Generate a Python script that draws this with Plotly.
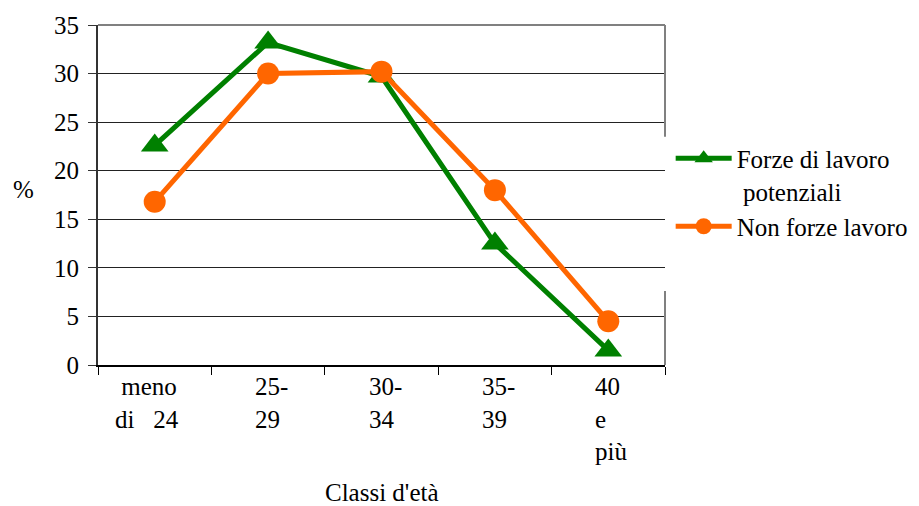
import plotly.graph_objects as go

categories = ["meno di 24", "25-29", "30-34", "35-39", "40 e più"]
tick_labels = ["\u00a0meno<br>di\u00a0\u00a0\u00a024", "25-<br>29", "30-<br>34", "35-<br>39", "40<br>e<br>più"]
tick_shifts = [-42, -15, -15, -15, -15]
forze_potenziali = [22.6, 33.2, 29.7, 12.5, 1.5]
non_forze = [16.8, 30.0, 30.2, 18.0, 4.5]
series_names = ["Forze di lavoro<br>\u00a0potenziali", "Non forze lavoro"]

FONT = "'Liberation Serif', 'Times New Roman', serif"
fig = go.Figure()
fig.add_trace(go.Scatter(
    x=categories, y=forze_potenziali, name=series_names[0], mode="lines+markers",
    line=dict(color="#008000", width=5),
    marker=dict(symbol="triangle-up", size=24, color="#008000")))
fig.add_trace(go.Scatter(
    x=categories, y=non_forze, name=series_names[1], mode="lines+markers",
    line=dict(color="#FF6600", width=5),
    marker=dict(symbol="circle", size=22, color="#FF6600")))

annotations = []
for cat, lab, sh in zip(categories, tick_labels, tick_shifts):
    annotations.append(dict(x=cat, xref="x", y=0, yref="paper", text=lab, showarrow=False,
                            xanchor="left", yanchor="top", align="left", xshift=sh, yshift=-6,
                            font=dict(family=FONT, size=25, color="black")))
annotations.append(dict(x=0.5, xref="paper", y=0, yref="paper", yshift=-112, text="Classi d'età",
                        showarrow=False, xanchor="center", yanchor="top",
                        font=dict(family=FONT, size=25, color="black")))
annotations.append(dict(x=0, xref="paper", xshift=-75, y=0.5, yref="paper", yshift=6, text="%",
                        showarrow=False, xanchor="center", yanchor="middle",
                        font=dict(family=FONT, size=25, color="black")))

shapes = [
    dict(type="line", xref="paper", yref="paper", x0=0, x1=1, y0=1, y1=1,
         line=dict(color="#808080", width=2)),
    dict(type="line", xref="paper", yref="paper", x0=1, x1=1, y0=1, y1=0.671,
         line=dict(color="#808080", width=2)),
    dict(type="line", xref="paper", yref="paper", x0=1, x1=1, y0=0.218, y1=0,
         line=dict(color="#808080", width=2)),
]

fig.update_layout(
    width=919, height=506,
    margin=dict(l=98, r=254, t=25, b=141, autoexpand=False),
    paper_bgcolor="white", plot_bgcolor="white",
    font=dict(family=FONT, size=25, color="black"),
    showlegend=True,
    legend=dict(x=1.01, xanchor="left", y=0.675, yanchor="top", bgcolor="rgba(0,0,0,0)",
                valign="top", font=dict(family=FONT, size=25, color="black"),
                tracegroupgap=0, itemwidth=56),
    annotations=annotations, shapes=shapes,
)
fig.update_xaxes(type="category", range=[-0.5, 4.5], showticklabels=False,
                 showline=True, linecolor="black", linewidth=2,
                 ticks="outside", tickson="boundaries", ticklen=8, tickcolor="black",
                 showgrid=False, zeroline=False)
fig.update_yaxes(range=[0, 35], tickvals=[0, 5, 10, 15, 20, 25, 30, 35],
                 showline=True, linecolor="#333333", linewidth=2,
                 ticks="outside", ticklen=8, tickcolor="#333333",
                 showgrid=True, gridcolor="#222222", gridwidth=1, zeroline=False,
                 tickfont=dict(family=FONT, size=25, color="black"), ticklabelstandoff=4)

fig.write_html("out.html")
